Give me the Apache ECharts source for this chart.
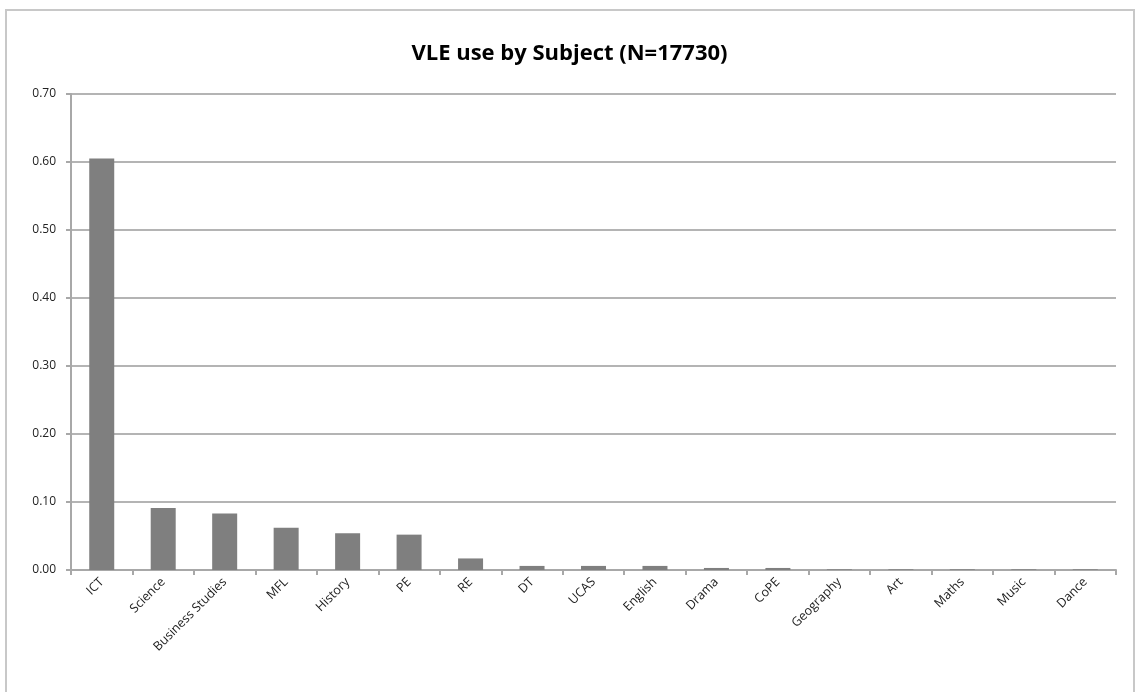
<!DOCTYPE html>
<html>
<head>
<meta charset="utf-8">
<script src="https://cdn.jsdelivr.net/npm/echarts@6/dist/echarts.min.js"></script>
<style>
html,body{margin:0;padding:0;background:#fff;}
#frame{position:absolute;left:5px;top:9px;width:1130px;height:700px;border:2px solid #c8c8c8;box-sizing:border-box;}
#chart{position:absolute;left:0;top:0;width:1139px;height:692px;}
</style>
</head>
<body>
<div id="frame"></div>
<div id="chart"></div>
<script>
var categories = ["ICT","Science","Business Studies","MFL","History","PE","RE","DT","UCAS","English","Drama","CoPE","Geography","Art","Maths","Music","Dance"];
var values = [0.605,0.091,0.083,0.062,0.054,0.052,0.017,0.006,0.006,0.006,0.003,0.003,0.001,0.001,0.001,0.001,0.001];
var yTicks = {min:0, max:0.7, interval:0.1};
var titleText = "VLE use by Subject (N=17730)";

var chart = echarts.init(document.getElementById('chart'));
chart.setOption({
  animation:false,
  title:{text:titleText,left:'center',top:38,textStyle:{fontFamily:'Open Sans',fontWeight:'bold',fontSize:22,color:'#000'}},
  grid:{left:71,right:23,top:94,bottom:122,containLabel:false},
  xAxis:{type:'category',data:categories,
    axisLine:{lineStyle:{color:'#a8a8a8',width:2}},
    axisTick:{show:true,length:5,lineStyle:{color:'#a8a8a8',width:2}},
    axisLabel:{rotate:45,fontFamily:'Open Sans',fontSize:12.5,color:'#222',margin:10,interval:0}},
  yAxis:{type:'value',min:yTicks.min,max:yTicks.max,interval:yTicks.interval,
    axisLine:{show:true,lineStyle:{color:'#a8a8a8',width:2}},
    axisTick:{show:true,length:5,lineStyle:{color:'#a8a8a8',width:2}},
    splitLine:{lineStyle:{color:'#b4b4b4',width:2}},
    axisLabel:{fontFamily:'Open Sans',fontSize:12,color:'#222',margin:15,formatter:function(v){return v.toFixed(2);}}},
  series:[{type:'bar',data:values,barWidth:25,itemStyle:{color:'#7f7f7f'}}]
});
</script>
</body>
</html>
